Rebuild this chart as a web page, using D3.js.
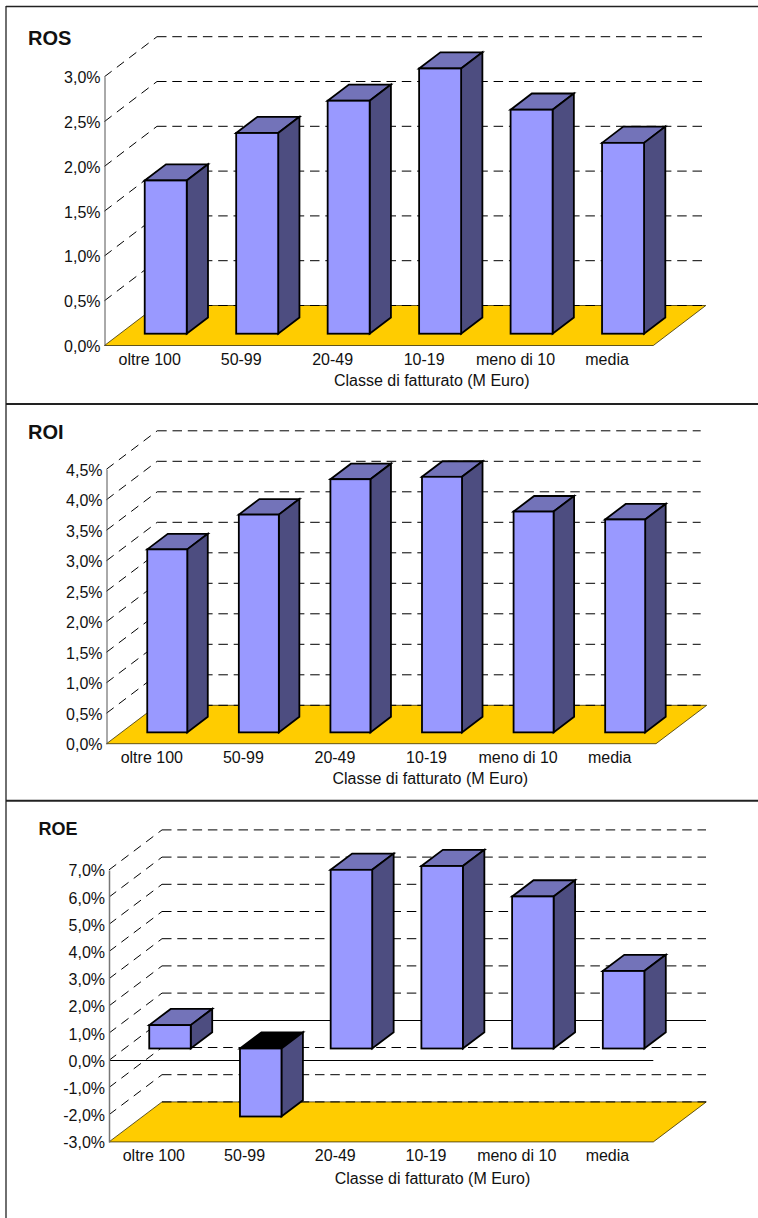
<!DOCTYPE html>
<html lang="it">
<head>
<meta charset="utf-8">
<title>ROS, ROI, ROE per classe di fatturato</title>
<script src="https://cdn.jsdelivr.net/npm/d3@7"></script>
<style>
  html, body { margin: 0; padding: 0; background: #fff; }
  svg { display: block; }
  text { font-family: "Liberation Sans", Arial, sans-serif; fill: #111; }
</style>
</head>
<body>
<svg id="chart" width="758" height="1218"></svg>
<script>
// Revenue classes shared by the three panels
const categories = ["oltre 100", "50-99", "20-49", "10-19", "meno di 10", "media"];
const axisTitle = "Classe di fatturato (M Euro)";

// Profitability ratios, in percent
const rosValues = [1.71, 2.24, 2.60, 2.96, 2.50, 2.13];
const roiValues = [3.00, 3.57, 4.15, 4.19, 3.62, 3.49];
const roeValues = [0.86, -2.50, 6.57, 6.71, 5.59, 2.85];

// Value axis ticks
const rosTicks = [0, 0.5, 1, 1.5, 2, 2.5, 3];
const roiTicks = [0, 0.5, 1, 1.5, 2, 2.5, 3, 3.5, 4, 4.5];
const roeTicks = [-3, -2, -1, 0, 1, 2, 3, 4, 5, 6, 7];

const colors = { front: "#9999ff", side: "#4d4d80", top: "#7373b9", under: "#000000", floor: "#ffcc00" };
const BAR_INSET = 0.295;  // how far into the floor depth the bars stand
const BAR_DEPTH = 0.405;  // bar depth as a share of the floor depth

const panels = [
  { title: "ROS", values: rosValues, ticks: rosTicks, titleX: 28, titleY: 45, titleSize: 20,
    left: 104.5, right: 653.3, floorY: 345.5, topY: 76.7, dx: 52.5, dy: -40, barW: 42, gridRight: 706,
    catY: 365, axisTitleX: 431.7, axisTitleY: 386, axisStroke: "#555", axisW: 1 },
  { title: "ROI", values: roiValues, ticks: roiTicks, titleX: 28, titleY: 439, titleSize: 20,
    left: 106.5, right: 656, floorY: 743.7, topY: 469.2, dx: 50.7, dy: -38.4, barW: 40, gridRight: 700.7,
    catY: 763.3, axisTitleX: 430.3, axisTitleY: 784, axisStroke: "#555", axisW: 1 },
  { title: "ROE", values: roeValues, ticks: roeTicks, titleX: 38.5, titleY: 834.7, titleSize: 18,
    left: 109, right: 653.3, floorY: 1141.9, topY: 869.9, dx: 53, dy: -40, barW: 41.5, gridRight: 706,
    catY: 1161, axisTitleX: 432.5, axisTitleY: 1184, axisStroke: "#777", axisW: 1.5 }
];

const svg = d3.select("#chart");
const outline = d3.line();
const percent = v => v.toFixed(1).replace(".", ",") + "%";
const crisp = v => Math.floor(v) + 0.5;

// Outer frame and panel separators
svg.append("g").attr("stroke", "#222").attr("fill", "none")
  .selectAll("line")
  .data([
    { x1: 6, y1: 6.5, x2: 758, y2: 6.5, w: 1.3 },
    { x1: 6, y1: 6, x2: 6, y2: 1218, w: 1.3 },
    { x1: 6, y1: 404, x2: 758, y2: 404, w: 2 },
    { x1: 6, y1: 800.7, x2: 758, y2: 800.7, w: 2 }
  ])
  .join("line")
  .attr("x1", d => d.x1).attr("y1", d => d.y1)
  .attr("x2", d => d.x2).attr("y2", d => d.y2)
  .attr("stroke-width", d => d.w);

panels.forEach(p => {
  const g = svg.append("g").attr("class", "panel");
  const domain = d3.extent(p.ticks);
  const hasNegative = domain[0] < 0;
  const x = d3.scaleBand().domain(categories).range([p.left, p.right]);
  const y = d3.scaleLinear().domain(domain).range([p.floorY, p.topY]);
  const baseline = hasNegative ? 0 : domain[0];

  // Floor of the 3D box
  g.append("path")
    .attr("d", outline([
      [p.left, p.floorY], [p.left + p.dx, p.floorY + p.dy],
      [p.right + p.dx, p.floorY + p.dy], [p.right, p.floorY]
    ]) + "Z")
    .attr("fill", colors.floor).attr("stroke", "#3a3000").attr("stroke-width", 0.8);

  // Gridlines across the back wall and down its left side
  const walls = g.append("g").attr("fill", "none").attr("stroke", "#000").attr("stroke-width", 1);
  const backY = d => (d === 0 && hasNegative) ? crisp(y(d) + p.dy) : y(d) + p.dy;
  walls.selectAll("line.back")
    .data(p.ticks)
    .join("line").attr("class", "back")
    .attr("x1", p.left + p.dx).attr("x2", p.gridRight)
    .attr("y1", backY).attr("y2", backY)
    .attr("stroke-dasharray", d => (d === 0 && hasNegative) ? null : "9.5 5.8");
  walls.selectAll("line.side")
    .data(p.ticks.filter(t => t > domain[0]))
    .join("line").attr("class", "side")
    .attr("x1", p.left).attr("x2", p.left + p.dx)
    .attr("y1", d => y(d)).attr("y2", d => y(d) + p.dy)
    .attr("stroke-dasharray", "9 6.5");

  // Zero line on the front plane when the scale goes negative
  if (hasNegative) {
    g.append("line")
      .attr("x1", p.left).attr("x2", p.right)
      .attr("y1", crisp(y(0))).attr("y2", crisp(y(0)))
      .attr("stroke", "#000").attr("stroke-width", 1);
  }

  // Value axis
  const axis = g.append("g")
    .attr("transform", `translate(${p.left},0)`)
    .call(d3.axisLeft(y).tickValues(p.ticks).tickFormat(percent).tickSize(0).tickPadding(4));
  axis.select(".domain").attr("stroke", p.axisStroke).attr("stroke-width", p.axisW);
  axis.selectAll("text")
    .attr("font-size", 16).attr("dy", "0.38em")
    .style("font-family", '"Liberation Sans", Arial, sans-serif');

  // Bars: front, top and side faces
  const offX = p.dx * BAR_INSET, offY = p.dy * BAR_INSET;
  const depX = p.dx * BAR_DEPTH, depY = p.dy * BAR_DEPTH;
  const rows = categories.map((c, i) => {
    const x0 = x(c) + (x.bandwidth() - p.barW) / 2 + offX;
    const base = y(baseline) + offY;
    const end = base - (y(baseline) - y(p.values[i]));
    return { x0, x1: x0 + p.barW, top: Math.min(base, end), bottom: Math.max(base, end), negative: p.values[i] < 0 };
  });
  const bars = g.append("g").selectAll("g").data(rows).join("g")
    .attr("stroke", "#000").attr("stroke-width", 1.8).attr("stroke-linejoin", "miter");
  bars.append("path")
    .attr("d", d => outline([
      [d.x0, d.top], [d.x0 + depX, d.top + depY], [d.x1 + depX, d.top + depY], [d.x1, d.top]
    ]) + "Z")
    .attr("fill", d => d.negative ? colors.under : colors.top);
  bars.append("path")
    .attr("d", d => outline([
      [d.x1, d.top], [d.x1 + depX, d.top + depY], [d.x1 + depX, d.bottom + depY], [d.x1, d.bottom]
    ]) + "Z")
    .attr("fill", colors.side);
  bars.append("rect")
    .attr("x", d => d.x0).attr("y", d => d.top)
    .attr("width", p.barW).attr("height", d => d.bottom - d.top)
    .attr("fill", colors.front);

  // Category labels
  g.append("g").selectAll("text").data(categories).join("text")
    .attr("x", c => x(c) + x.bandwidth() / 2 - 0.5)
    .attr("y", p.catY)
    .attr("text-anchor", "middle").attr("font-size", 16)
    .text(c => c);

  // Axis title and panel title
  g.append("text")
    .attr("x", p.axisTitleX).attr("y", p.axisTitleY)
    .attr("text-anchor", "middle").attr("font-size", 16)
    .text(axisTitle);
  g.append("text")
    .attr("x", p.titleX).attr("y", p.titleY)
    .attr("font-size", p.titleSize).attr("font-weight", "bold")
    .text(p.title);
});
</script>
</body>
</html>
